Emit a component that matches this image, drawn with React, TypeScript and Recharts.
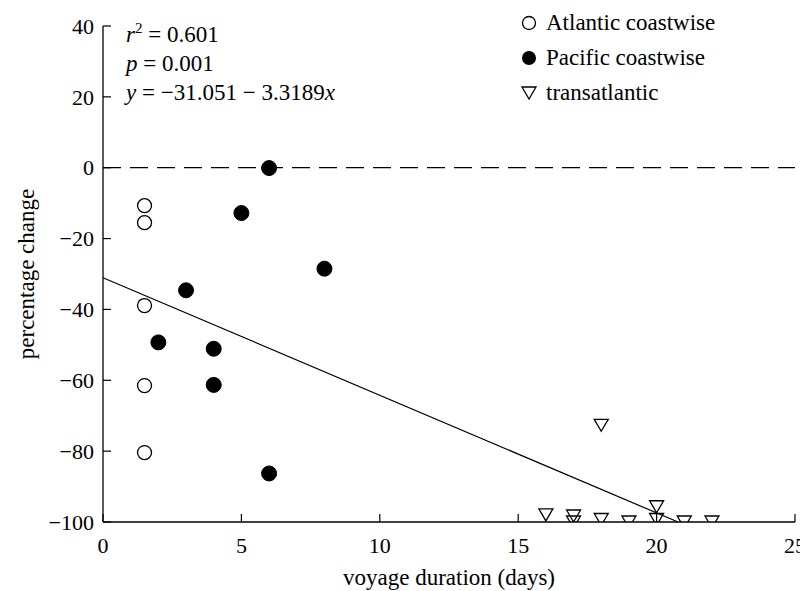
import React from 'react';
import { ScatterChart, Scatter, XAxis, YAxis, ReferenceLine, Legend } from 'recharts';

// ---- data ----
const atlanticX = [1.5, 1.5, 1.5, 1.5, 1.5];
const atlanticY = [-10.7, -15.5, -38.9, -61.5, -80.4];
const pacificX = [6, 5, 8, 3, 2, 4, 4, 6];
const pacificY = [-0.1, -12.8, -28.5, -34.6, -49.3, -51.1, -61.3, -86.3];
const transX = [18, 16, 17, 17, 18, 19, 20, 20, 21, 22];
const transY = [-72.7, -98.0, -98.3, -100, -99.3, -100, -95.7, -99.3, -100, -100];
const seriesNames = ['Atlantic coastwise', 'Pacific coastwise', 'transatlantic'];
const xTicks = [0, 5, 10, 15, 20, 25];
const yTicks = [-100, -80, -60, -40, -20, 0, 20, 40];
const fitX = [0, 20.775];
const fitY = [-31.051, -100];
const xTitle = 'voyage duration (days)';
const yTitle = 'percentage change';

const FONT = "Liberation Serif, Tinos, Times New Roman, Times, DejaVu Serif, Noto Serif, serif";

const zip = (xs: number[], ys: number[]) => xs.map((x, i) => ({ x, y: ys[i] }));
const atlantic = zip(atlanticX, atlanticY);
const pacific = zip(pacificX, pacificY);
const trans = zip(transX, transY);

const fmt = (v: number) => (v < 0 ? '\u2212' + Math.abs(v) : String(v));

const OpenCircle = ({ cx, cy }: any) => (
  <circle cx={cx} cy={cy} r={7} fill="none" stroke="#000" strokeWidth={1.3} />
);
const FilledCircle = ({ cx, cy }: any) => (
  <circle cx={cx} cy={cy} r={7.5} fill="#000" stroke="#000" />
);
const Triangle = ({ cx, cy }: any) => (
  <path
    d={`M${cx - 7},${cy - 6} L${cx + 7},${cy - 6} L${cx},${cy + 6} Z`}
    fill="none"
    stroke="#000"
    strokeWidth={1.3}
  />
);

const YTick = (props: any) => {
  const { x, y, payload } = props;
  return (
    <g>
      <line x1={x} x2={x + 8} y1={y} y2={y} stroke="#000" strokeWidth={1.2} />
      <text x={x - 9} y={y} dy="0.35em" textAnchor="end" fontSize={22} style={{ fontFamily: FONT }} fill="#000">
        {fmt(payload.value)}
      </text>
    </g>
  );
};

const XTick = (props: any) => {
  const { x, y, payload } = props;
  return (
    <g>
      <line x1={x} x2={x} y1={y} y2={y - 8} stroke="#000" strokeWidth={1.2} />
      <text x={x} y={y + 31} textAnchor="middle" fontSize={22} style={{ fontFamily: FONT }} fill="#000">
        {fmt(payload.value)}
      </text>
    </g>
  );
};

const legendShapes = [
  <circle cx={8} cy={8} r={6.5} fill="none" stroke="#000" strokeWidth={1.3} />,
  <circle cx={8} cy={8} r={7} fill="#000" />,
  <path d="M1,2 L15,2 L8,14 Z" fill="none" stroke="#000" strokeWidth={1.3} />,
];

const LegendContent = () => (
  <div style={{ fontFamily: FONT, fontSize: 23, color: '#000' }}>
    {seriesNames.map((name, i) => (
      <div key={name} style={{ display: 'flex', alignItems: 'center', height: 35 }}>
        <svg width={16} height={16} style={{ marginRight: 9 }}>
          {legendShapes[i]}
        </svg>
        <span>{name}</span>
      </div>
    ))}
  </div>
);

export default function App() {
  return (
    <div style={{ position: 'relative', width: 800, height: 583, fontFamily: FONT }}>
      <ScatterChart width={800} height={583} margin={{ top: 18, right: 13, left: 0, bottom: 0 }}>
        <XAxis
          type="number"
          dataKey="x"
          domain={[0, 25]}
          ticks={xTicks}
          height={69}
          axisLine={{ stroke: '#000', strokeWidth: 1.3 }}
          tickLine={false}
          tickSize={0}
          tickMargin={0}
          tick={<XTick />}
          allowDataOverflow
          label={(p: any) => {
            const vb = p.viewBox;
            return (
              <text x={vb.x + vb.width / 2} y={vb.y + 63} textAnchor="middle" fontSize={23} style={{ fontFamily: FONT }} fill="#000">
                {xTitle}
              </text>
            );
          }}
        />
        <YAxis
          type="number"
          dataKey="y"
          domain={[-100, 40]}
          ticks={yTicks}
          width={95}
          axisLine={{ stroke: '#000', strokeWidth: 1.3 }}
          tickLine={false}
          tickSize={0}
          tickMargin={0}
          tick={<YTick />}
          allowDataOverflow
          label={(p: any) => {
            const vb = p.viewBox;
            const cx = 18;
            const cy = vb.y + vb.height / 2;
            return (
              <text x={cx} y={cy} transform={`rotate(-90 ${cx} ${cy})`} textAnchor="middle" dy="0.35em" fontSize={23} style={{ fontFamily: FONT }} fill="#000">
                {yTitle}
              </text>
            );
          }}
        />
        <ReferenceLine y={0} stroke="#000" strokeWidth={1.2} strokeDasharray="18 9" />
        <ReferenceLine
          segment={[{ x: fitX[0], y: fitY[0] }, { x: fitX[1], y: fitY[1] }]}
          stroke="#000"
          strokeWidth={1.2}
        />
        <Scatter name={seriesNames[0]} data={atlantic} shape={<OpenCircle />} isAnimationActive={false} />
        <Scatter name={seriesNames[1]} data={pacific} shape={<FilledCircle />} isAnimationActive={false} />
        <Scatter name={seriesNames[2]} data={trans} shape={<Triangle />} isAnimationActive={false} />
        <Legend
          layout="horizontal"
          verticalAlign="middle"
          align="center"
          wrapperStyle={{ top: -3, left: 513, width: 260 }}
          content={<LegendContent />}
        />
      </ScatterChart>
      <div
        style={{
          position: 'absolute',
          left: 118,
          top: 12,
          fontFamily: FONT,
          fontSize: 23,
          lineHeight: '29px',
          color: '#000',
          whiteSpace: 'nowrap',
        }}
      >
        <div>
          <i>r</i>
          <sup style={{ fontSize: 15, lineHeight: 0 }}>2</sup> = 0.601
        </div>
        <div>
          <i>p</i> = 0.001
        </div>
        <div>
          <i>y</i> = {'\u2212'}31.051 {'\u2212'} 3.3189<i>x</i>
        </div>
      </div>
    </div>
  );
}
